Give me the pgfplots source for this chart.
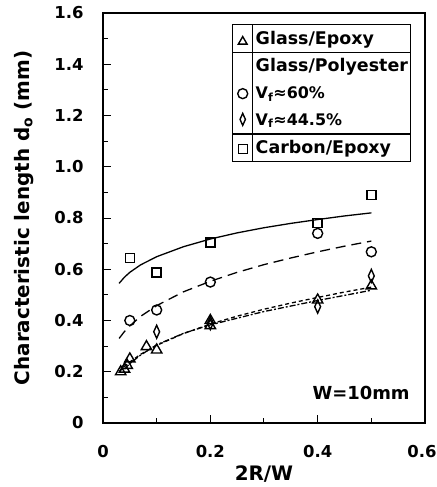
\documentclass[border=0pt]{standalone}
\usepackage{fontspec}
\setmainfont{DejaVu Sans}[BoldFont={DejaVu Sans Bold}]
\usepackage{pgfplots}
\pgfplotsset{compat=1.18}
\begin{document}
\begin{tikzpicture}
\begin{axis}[
  scale only axis, width=322bp, height=410bp,
  xmin=0, xmax=0.6, ymin=0, ymax=1.6,
  axis line style={line width=1.3pt},
  xtick={0,0.2,0.4,0.6}, minor xtick={0.1,0.3,0.5},
  ytick={0,0.2,...,1.6}, minor ytick={0.1,0.3,...,1.5},
  xticklabels={0,0.2,0.4,\hspace*{-6bp}0.6},
  yticklabels={0,0.2,0.4,0.6,0.8,1.0,1.2,1.4,1.6},
  tick align=inside, xtick pos=bottom, ytick pos=left,
  major tick length=8bp, minor tick length=5bp,
  tick style={line width=1pt, black},
  /pgf/number format/assume math mode=true,
  ticklabel style={font=\fontsize{16.5}{20}\selectfont\bfseries},
  xticklabel style={yshift=-19bp},
  yticklabel style={xshift=-16bp},
  label style={font=\fontsize{20}{24}\selectfont\bfseries},
  xlabel={2R/W}, ylabel={Characteristic length d\textsubscript{o} (mm)},
  xlabel style={yshift=-1bp},
  ylabel style={yshift=14bp},
  clip=false,
]
\coordinate (bl) at (rel axis cs:0,0);
% fitted curves
\addplot[black, line width=1.3pt] coordinates {(0.03,0.545)(0.04,0.569)(0.05,0.588)(0.07,0.617)(0.1,0.649)(0.15,0.688)(0.2,0.718)(0.25,0.742)(0.3,0.762)(0.35,0.779)(0.4,0.794)(0.45,0.808)(0.5,0.820)};
\addplot[black, line width=1.3pt, dash pattern=on 10pt off 6pt] coordinates {(0.03,0.330)(0.04,0.357)(0.05,0.379)(0.07,0.416)(0.1,0.458)(0.15,0.512)(0.2,0.553)(0.25,0.588)(0.3,0.618)(0.35,0.644)(0.4,0.668)(0.45,0.690)(0.5,0.710)};
\addplot[black, line width=1.3pt, dash pattern=on 4pt off 3pt] coordinates {(0.03,0.200)(0.04,0.221)(0.05,0.238)(0.07,0.268)(0.1,0.303)(0.15,0.349)(0.2,0.386)(0.25,0.417)(0.3,0.444)(0.35,0.468)(0.4,0.490)(0.45,0.511)(0.5,0.530)};
\addplot[black, line width=1.3pt, dash pattern=on 6pt off 2pt on 2pt off 2pt] coordinates {(0.04,0.21)(0.05,0.232)(0.07,0.265)(0.1,0.305)(0.15,0.35)(0.2,0.383)(0.3,0.435)(0.4,0.478)(0.5,0.518)};
% data
\addplot[only marks, mark=square, mark size=4.5bp, mark options={line width=1.4pt, fill=white}] coordinates {(0.05,0.643)(0.1,0.587)(0.2,0.705)(0.4,0.78)(0.5,0.89)};
\addplot[only marks, mark=o, mark size=5bp, mark options={line width=1.4pt, fill=white}] coordinates {(0.05,0.40)(0.1,0.441)(0.2,0.55)(0.4,0.74)(0.5,0.668)};
\addplot[only marks, mark=diamond, mark size=6.5bp, mark options={line width=1.4pt, xscale=0.6}] coordinates {(0.1,0.356)(0.2,0.39)(0.4,0.454)(0.5,0.574)};
\addplot[only marks, mark=triangle, mark size=6bp, mark options={line width=1.4pt}] coordinates {(0.033,0.20)(0.04,0.21)(0.045,0.225)(0.05,0.25)(0.081,0.298)(0.1,0.285)(0.2,0.38)(0.2,0.40)(0.4,0.48)(0.5,0.535)};
\node[anchor=east, font=\fontsize{18}{20}\selectfont\bfseries] at (axis cs:0.578,0.117) {W=10mm};
\node[anchor=north east, inner sep=0pt, font=\fontsize{17.5}{22}\selectfont\bfseries] at (rel axis cs:0.957,0.973) {%
  \setlength{\tabcolsep}{3bp}\setlength{\arrayrulewidth}{1.1pt}\renewcommand\arraystretch{1.22}%
  \begin{tabular}{|@{\hspace{5bp}}c@{\hspace{5bp}}|l|}\hline
  \tikz\path[mark=triangle, mark size=5bp, mark options={line width=1.4pt}] plot coordinates {(0,0)}; & Glass/Epoxy\\\hline
   & Glass/Polyester\\
  \tikz\path[mark=o, mark size=5bp, mark options={line width=1.4pt}] plot coordinates {(0,0)}; & {\fontsize{16}{20}\selectfont V\textsubscript{f}≈60\%}\\
  \tikz\path[mark=diamond, mark size=6bp, mark options={line width=1.4pt, xscale=0.6}] plot coordinates {(0,0)}; & {\fontsize{16}{20}\selectfont V\textsubscript{f}≈44.5\%}\\\hline
  \tikz\path[mark=square, mark size=4.5bp, mark options={line width=1.4pt}] plot coordinates {(0,0)}; & Carbon/Epoxy\\\hline
  \end{tabular}};
\end{axis}
\pgfresetboundingbox
\path (bl) ++(-103bp,-64bp) rectangle ++(437bp,487bp);
\end{tikzpicture}
\end{document}
